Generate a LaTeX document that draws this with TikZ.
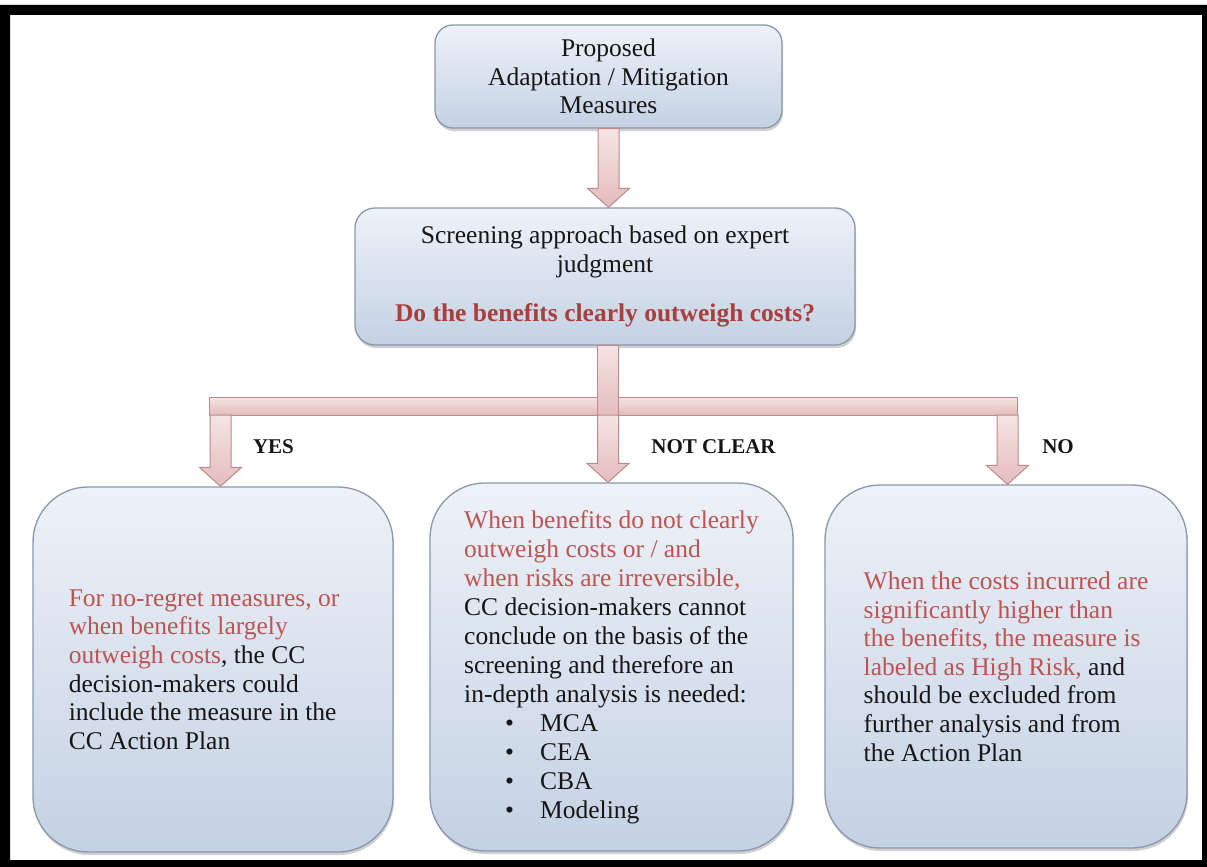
\documentclass[tikz,border=0pt]{standalone}
\usepackage{fontspec}
\setmainfont{LiberationSerif}[Extension=.ttf, UprightFont=*-Regular, BoldFont=*-Bold, ItalicFont=*-Italic, BoldItalicFont=*-BoldItalic]
\usetikzlibrary{calc,shadows}
\definecolor{ccred}{RGB}{190,84,82}
\definecolor{ccdark}{RGB}{170,62,60}
\definecolor{ink}{RGB}{22,22,22}
\definecolor{boxtop}{RGB}{238,242,249}
\definecolor{boxbot}{RGB}{196,209,227}
\definecolor{boxline}{RGB}{138,152,172}
\definecolor{pinktop}{RGB}{246,228,228}
\definecolor{pinkbot}{RGB}{228,188,188}
\definecolor{pinkline}{RGB}{188,138,138}
\newcommand\blockdown[2]{%
  \path[pinkarrow] let \p1=(#1), \p2=(#2) in
    (\x1-10.5pt,\y1) -- (\x1+10.5pt,\y1) -- (\x1+10.5pt,\y2+19pt) -- (\x1+21pt,\y2+19pt)
    -- (\x1,\y2) -- (\x1-21pt,\y2+19pt) -- (\x1-10.5pt,\y2+19pt) -- cycle;}
\newcommand\bul{\hspace*{41pt}\makebox[35pt][l]{•}}
\tikzset{
  every node/.style={font=\fontsize{25.5}{28.6}\selectfont, text=ink},
  cbox/.style={draw=boxline, line width=1.3pt, top color=boxtop, bottom color=boxbot,
     drop shadow={shadow xshift=1pt, shadow yshift=-3pt, opacity=0.3, fill=black!60},
     inner sep=0pt},
  topbox/.style={cbox, rounded corners=18pt, minimum width=347pt, minimum height=103pt, align=center},
  screenbox/.style={cbox, rounded corners=20pt, minimum width=500pt, minimum height=137pt, align=center},
  bigbox/.style={cbox, rounded corners=55pt, minimum height=365pt, align=left},
  pinkarrow/.style={draw=pinkline, line width=1pt, top color=pinktop, bottom color=pinkbot,
     line join=miter},
  lbl/.style={font=\bfseries\fontsize{21}{24}\selectfont, text=ink, inner sep=0pt}
}
\begin{document}
\begin{tikzpicture}[x=1pt,y=-1pt]
\useasboundingbox (0,0) rectangle (1207,867);
\fill[white] (0,0) rectangle (1207,867);
\fill[black,even odd rule] (0,5) rectangle (1207,867) (10,15) rectangle (1202,860);

% boxes
\node[topbox] (top) at (608.5,76.5) {Proposed\\Adaptation / Mitigation\\Measures};
\node[screenbox] (screen) at (605,276.5) {Screening approach based on expert\\judgment\\[20pt]
  \textcolor{ccdark}{\bfseries Do the benefits clearly outweigh costs?}};

\node[bigbox, minimum width=360pt] (yesbox) at (213,669.5) {%
  \textcolor{ccred}{For no-regret measures, or}\hspace*{18pt}\\
  \textcolor{ccred}{when benefits largely}\\
  \textcolor{ccred}{outweigh costs}, the CC\\
  decision-makers could\\
  include the measure in the\\
  CC Action Plan};

\node[bigbox, minimum width=363pt, minimum height=368pt,
      font=\fontsize{25.5}{29}\selectfont] (ncbox) at (611.5,667) {%
  \textcolor{ccred}{When benefits do not clearly}\\
  \textcolor{ccred}{outweigh costs or / and}\\
  \textcolor{ccred}{when risks are irreversible,}\\
  CC decision-makers cannot\\
  conclude on the basis of the\\
  screening and therefore an\\
  in-depth analysis is needed:\\
  \bul MCA\\
  \bul CEA\\
  \bul CBA\\
  \bul Modeling};

\node[bigbox, minimum width=362pt, minimum height=363pt] (nobox) at (1006,666.5) {%
  \textcolor{ccred}{When the costs incurred are}\\
  \textcolor{ccred}{significantly higher than}\\
  \textcolor{ccred}{the benefits, the measure is}\\
  \textcolor{ccred}{labeled as High Risk,} and\\
  should be excluded from\\
  further analysis and from\\
  the Action Plan};

% connectors
\coordinate (barL) at (209,397);
\coordinate (barR) at (1017,415);
\coordinate (mid) at (608,415);
\coordinate (lj) at (220.5,415);
\coordinate (rj) at (1007.5,415);

\blockdown{top.south}{top.south |- screen.north}
\path[pinkarrow] (barL) rectangle (barR);
\path[pinkarrow] ($(screen.south -| mid)+(-10.5,0)$) rectangle ($(mid)+(10.5,0)$);
\blockdown{lj}{lj |- yesbox.north}
\blockdown{mid}{mid |- ncbox.north}
\blockdown{rj}{rj |- nobox.north}

% labels
\node[lbl] (yes) at (273.5,447) {YES};
\node[lbl] (notclear) at (713.5,447) {NOT CLEAR};
\node[lbl] (no) at (1058,447) {NO};
\end{tikzpicture}
\end{document}
